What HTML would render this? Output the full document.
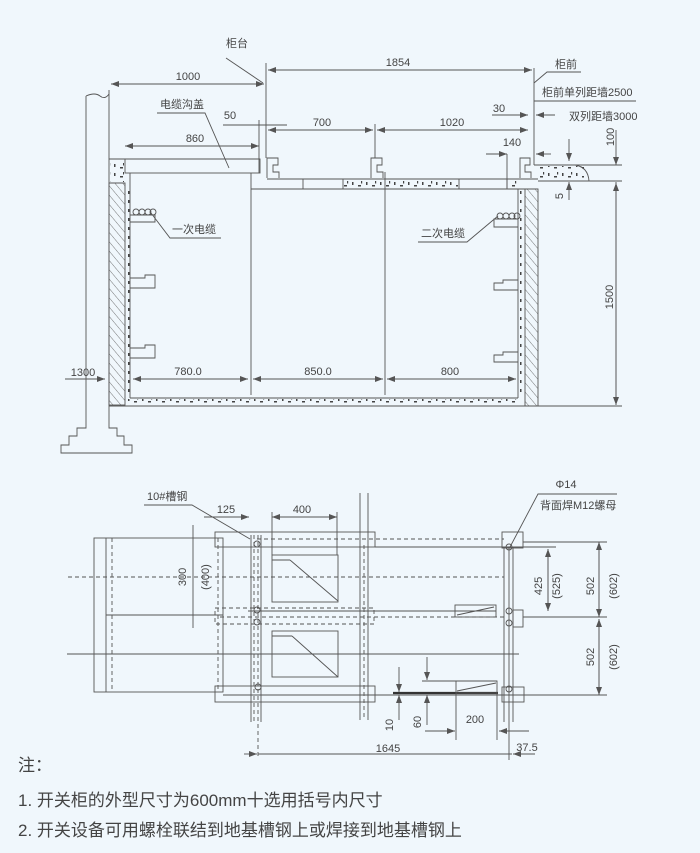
<!DOCTYPE html>
<html><head><meta charset="utf-8"><style>
html,body{margin:0;padding:0;background:#f0f7fc;}
svg{display:block}
text{font-family:"Liberation Sans","Noto Sans CJK SC",sans-serif;fill:#444;font-size:11px}
.l{stroke:#555;stroke-width:0.9;fill:none}
.d{stroke:#555;stroke-width:0.9;fill:none;stroke-dasharray:4 3}
.n{font-family:"Liberation Sans","Noto Sans CJK SC",sans-serif;font-size:17px;fill:#444}
</style></head><body>
<svg width="700" height="853" viewBox="0 0 700 853" xmlns="http://www.w3.org/2000/svg">
<defs>
<marker id="a" markerWidth="8" markerHeight="6" refX="8" refY="3" orient="auto" markerUnits="userSpaceOnUse"><path d="M0,0 L8,3 L0,6 z" fill="#555"/></marker>
<pattern id="h" width="6" height="6" patternUnits="userSpaceOnUse" patternTransform="rotate(-40)"><line x1="0" y1="0" x2="0" y2="6" stroke="#555" stroke-width="0.8"/></pattern>
<pattern id="c" width="14" height="9" patternUnits="userSpaceOnUse"><rect x="2" y="2" width="1.5" height="3" fill="#444"/><rect x="8" y="5" width="3" height="1.5" fill="#444"/><rect x="11" y="1" width="1.2" height="2.5" fill="#444"/></pattern>
</defs>

<!-- ===== TOP SECTION ===== -->
<!-- pillar -->
<path class="l" d="M86,96 L86,428 L77,428 L77,436 L69,436 L69,445 L61,445 L61,453 L132,453 L132,445 L124,445 L124,436 L117,436 L117,428 L109,428 L109,90"/>
<path class="l" d="M86,96 Q95,92 100,96 T109,94"/>
<!-- ground / cover -->
<line class="l" x1="109" y1="159" x2="260" y2="159"/>
<rect class="l" x="125" y="159" width="135" height="14"/>
<rect x="110" y="160" width="14" height="22" fill="url(#c)"/>
<line class="l" x1="109" y1="183" x2="125" y2="183"/>
<!-- left hatched wall -->
<rect x="109" y="183" width="16" height="222" fill="url(#h)" stroke="#555" stroke-width="0.9"/>
<line class="l" x1="130" y1="173" x2="130" y2="398"/>
<rect x="125" y="185" width="5" height="212" fill="url(#c)"/>
<!-- floor -->
<line class="l" x1="130" y1="398" x2="518" y2="398"/>
<line class="l" x1="109" y1="406" x2="622" y2="406"/>
<rect x="125" y="399" width="393" height="6" fill="url(#c)"/>
<!-- right wall -->
<rect x="525" y="189" width="13" height="217" fill="url(#h)" stroke="#555" stroke-width="0.9"/>
<line class="l" x1="518" y1="189" x2="518" y2="398"/>
<rect x="518" y="190" width="7" height="208" fill="url(#c)"/>
<!-- trench inner -->
<line class="l" x1="251" y1="189" x2="538" y2="189"/>
<line class="l" x1="251" y1="173" x2="251" y2="395"/>
<line class="l" x1="385" y1="172" x2="385" y2="395"/>
<!-- floor strip -->
<line class="l" x1="267" y1="179" x2="538" y2="179"/>
<line class="l" x1="303" y1="179" x2="303" y2="189"/>
<line class="l" x1="343" y1="179" x2="343" y2="189"/>
<line class="l" x1="459" y1="179" x2="459" y2="189"/>
<line class="l" x1="507" y1="179" x2="507" y2="189"/>
<rect x="344" y="180" width="114" height="8" fill="url(#c)"/>
<rect x="508" y="180" width="10" height="8" fill="url(#c)"/>
<!-- brackets -->
<path class="l" d="M267,178 L267,158 L278,158 L278,165 L273,165 L273,172 L279,172 L279,178"/>
<path class="l" d="M371,178 L371,158 L382,158 L382,165 L377,165 L377,172 L383,172 L383,178"/>
<path class="l" d="M520,178 L520,158 L530,158 L530,165 L525,165 L525,172 L531,172 L531,178"/>
<!-- right ground -->
<line class="l" x1="534" y1="165" x2="622" y2="165"/>
<line class="l" x1="538" y1="181" x2="622" y2="181"/>
<path class="l" d="M534,165 L575,165 Q588,167 589,181"/>
<rect x="536" y="166" width="48" height="14" fill="url(#c)"/>
<!-- cable trays left -->
<g class="l">
<circle cx="136" cy="212" r="3"/><circle cx="142" cy="212" r="3"/><circle cx="148" cy="212" r="3"/><circle cx="153" cy="212" r="3"/>
<path d="M130,215 L155,215 L155,222 L130,222"/>
<path d="M130,278 L145,278 L145,275 L155,275 L155,288 L130,288"/>
<path d="M130,348 L145,348 L145,345 L155,345 L155,358 L130,358"/>
<circle cx="500" cy="216" r="3"/><circle cx="506" cy="216" r="3"/><circle cx="512" cy="216" r="3"/><circle cx="517" cy="216" r="3"/>
<path d="M518,219 L494,219 L494,227 L518,227"/>
<path d="M518,280 L503,280 L503,283 L494,283 L494,290 L518,290"/>
<path d="M518,352 L503,352 L503,355 L494,355 L494,362 L518,362"/>
</g>
<!-- labels top -->
<path class="l" d="M221,238 L170,238 L151,213"/>
<text x="172" y="233">一次电缆</text>
<path class="l" d="M418,242 L467,242 L498,216"/>
<text x="421" y="237">二次电缆</text>
<path class="l" d="M157,113 L205,113 L229,168"/>
<text x="160" y="108">电缆沟盖</text>
<!-- dims top -->
<line class="l" x1="266" y1="63" x2="266" y2="158"/>
<line class="l" x1="259" y1="120" x2="259" y2="173"/>
<line class="l" x1="534" y1="68" x2="534" y2="165"/>
<line class="l" x1="375" y1="124" x2="375" y2="158"/>
<line class="l" x1="111" y1="84" x2="264" y2="84" marker-end="url(#a)"/>
<line class="l" x1="262" y1="84" x2="111" y2="84" marker-end="url(#a)"/>
<text x="188" y="80" text-anchor="middle">1000</text>
<path class="l" d="M226,58 L263,83"/>
<text x="237" y="47" text-anchor="middle">柜台</text>
<line class="l" x1="268" y1="70" x2="532" y2="70" marker-end="url(#a)"/>
<line class="l" x1="530" y1="70" x2="268" y2="70" marker-end="url(#a)"/>
<text x="398" y="66" text-anchor="middle">1854</text>
<path class="l" d="M534,83 L547,72 L581,72"/>
<text x="566" y="68" text-anchor="middle">柜前</text>
<line class="l" x1="534" y1="101" x2="636" y2="101"/>
<text x="542" y="96">柜前单列距墙2500</text>
<line class="l" x1="492" y1="115" x2="528" y2="115" marker-end="url(#a)"/>
<line class="l" x1="555" y1="115" x2="536" y2="115" marker-end="url(#a)"/>
<text x="499" y="112" text-anchor="middle">30</text>
<text x="569" y="120">双列距墙3000</text>
<line class="l" x1="223" y1="125" x2="287" y2="125"/>
<text x="230" y="119" text-anchor="middle">50</text>
<line class="l" x1="268" y1="130" x2="373" y2="130" marker-end="url(#a)"/>
<line class="l" x1="371" y1="130" x2="268" y2="130" marker-end="url(#a)"/>
<text x="322" y="126" text-anchor="middle">700</text>
<line class="l" x1="377" y1="130" x2="528" y2="130" marker-end="url(#a)"/>
<line class="l" x1="526" y1="130" x2="377" y2="130" marker-end="url(#a)"/>
<text x="452" y="126" text-anchor="middle">1020</text>
<line class="l" x1="125" y1="146" x2="259" y2="146" marker-end="url(#a)"/>
<line class="l" x1="257" y1="146" x2="125" y2="146" marker-end="url(#a)"/>
<text x="195" y="142" text-anchor="middle">860</text>
<line class="l" x1="486" y1="154" x2="507" y2="154" marker-end="url(#a)"/>
<line class="l" x1="551" y1="154" x2="536" y2="154" marker-end="url(#a)"/>
<line class="l" x1="507" y1="154" x2="507" y2="188"/>
<text x="512" y="146" text-anchor="middle">140</text>
<line class="l" x1="616" y1="130" x2="616" y2="165" marker-end="url(#a)"/>
<text transform="translate(614,137) rotate(-90)" text-anchor="middle">100</text>
<line class="l" x1="569" y1="139" x2="569" y2="161" marker-end="url(#a)"/>
<line class="l" x1="569" y1="200" x2="569" y2="182" marker-end="url(#a)"/>
<text transform="translate(563,196) rotate(-90)" text-anchor="middle">5</text>
<line class="l" x1="616" y1="182" x2="616" y2="405" marker-end="url(#a)"/>
<line class="l" x1="616" y1="405" x2="616" y2="183" marker-end="url(#a)"/>
<text transform="translate(613,297) rotate(-90)" text-anchor="middle">1500</text>
<line class="l" x1="65" y1="379" x2="105" y2="379" marker-end="url(#a)"/>
<text x="83" y="376" text-anchor="middle">1300</text>
<line class="l" x1="133" y1="379" x2="248" y2="379" marker-end="url(#a)"/>
<line class="l" x1="246" y1="379" x2="133" y2="379" marker-end="url(#a)"/>
<text x="188" y="375" text-anchor="middle">780.0</text>
<line class="l" x1="253" y1="379" x2="383" y2="379" marker-end="url(#a)"/>
<line class="l" x1="381" y1="379" x2="253" y2="379" marker-end="url(#a)"/>
<text x="318" y="375" text-anchor="middle">850.0</text>
<line class="l" x1="387" y1="379" x2="516" y2="379" marker-end="url(#a)"/>
<line class="l" x1="514" y1="379" x2="387" y2="379" marker-end="url(#a)"/>
<text x="450" y="375" text-anchor="middle">800</text>

<!-- ===== BOTTOM SECTION ===== -->
<rect class="l" x="94" y="538" width="129" height="154"/>
<line class="l" x1="106" y1="538" x2="106" y2="692"/>
<line class="d" x1="112" y1="538" x2="112" y2="692"/>
<line class="d" x1="218" y1="538" x2="218" y2="692"/>
<line class="l" x1="106" y1="615" x2="223" y2="615"/>
<line class="d" x1="68" y1="577" x2="504" y2="577"/>
<line class="l" x1="67" y1="654" x2="519" y2="654"/>
<!-- channels -->
<rect class="l" x="215" y="532" width="160" height="15"/>
<rect class="l" x="502" y="532" width="21" height="16"/>
<rect class="l" x="215" y="686" width="160" height="16"/>
<rect class="l" x="502" y="687" width="22" height="15"/>
<line class="d" x1="257" y1="539" x2="504" y2="539"/>
<line class="l" x1="375" y1="547" x2="556" y2="547"/>
<line class="l" x1="523" y1="542" x2="607" y2="542"/>
<line class="l" x1="223" y1="695" x2="607" y2="695"/>
<rect class="d" x="215" y="608" width="159" height="16"/>
<line class="l" x1="248" y1="611" x2="496" y2="611"/>
<line class="d" x1="220" y1="617" x2="504" y2="617"/>
<rect class="l" x="455" y="605" width="41" height="12"/>
<line class="l" x1="457" y1="615" x2="494" y2="607"/>
<rect class="l" x="513" y="610" width="10" height="17"/>
<line class="l" x1="523" y1="617" x2="607" y2="617"/>
<!-- verticals -->
<line class="l" x1="251" y1="535" x2="251" y2="722"/>
<line class="l" x1="261" y1="535" x2="261" y2="722"/>
<line class="d" x1="254" y1="535" x2="254" y2="722"/>
<line class="d" x1="258" y1="535" x2="258" y2="757"/>
<line class="l" x1="360" y1="493" x2="360" y2="720"/>
<line class="l" x1="368" y1="493" x2="368" y2="720"/>
<line class="d" x1="364" y1="545" x2="364" y2="720"/>
<line class="l" x1="504" y1="547" x2="504" y2="722"/>
<line class="l" x1="513" y1="547" x2="513" y2="722"/>
<line class="l" x1="509" y1="547" x2="509" y2="760"/>
<g class="l">
<circle cx="257" cy="544" r="3"/><circle cx="257" cy="610" r="3"/><circle cx="257" cy="622" r="3"/><circle cx="258" cy="687" r="3"/>
<circle cx="509" cy="547" r="3"/><circle cx="509" cy="611" r="3"/><circle cx="509" cy="623" r="3"/><circle cx="509" cy="689" r="3"/>
</g>
<!-- boxes -->
<rect class="l" x="272" y="555" width="66" height="47"/>
<line class="l" x1="272" y1="560" x2="290" y2="560"/>
<line class="l" x1="290" y1="560" x2="338" y2="601"/>
<rect class="l" x="272" y="631" width="66" height="46"/>
<line class="l" x1="272" y1="636" x2="292" y2="636"/>
<line class="l" x1="292" y1="636" x2="338" y2="677"/>
<!-- labels -->
<path class="l" d="M144,505 L192,505 L250,539"/>
<text x="147" y="500">10#槽钢</text>
<line class="l" x1="204" y1="517" x2="249" y2="517" marker-end="url(#a)"/>
<text x="226" y="513" text-anchor="middle">125</text>
<line class="l" x1="272" y1="512" x2="272" y2="555"/>
<line class="l" x1="337" y1="512" x2="337" y2="555"/>
<line class="l" x1="272" y1="517" x2="337" y2="517" marker-end="url(#a)"/>
<line class="l" x1="335" y1="517" x2="272" y2="517" marker-end="url(#a)"/>
<text x="302" y="513" text-anchor="middle">400</text>
<line class="l" x1="193" y1="525" x2="193" y2="628"/>
<text transform="translate(186,577) rotate(-90)" text-anchor="middle">300</text>
<text transform="translate(209,577) rotate(-90)" text-anchor="middle">(400)</text>
<text x="566" y="488" text-anchor="middle">Φ14</text>
<path class="l" d="M510,547 L538,494 L617,494"/>
<text x="540" y="509">背面焊M12螺母</text>
<line class="l" x1="548" y1="549" x2="548" y2="611" marker-end="url(#a)"/>
<line class="l" x1="548" y1="611" x2="548" y2="549" marker-end="url(#a)"/>
<text transform="translate(542,586) rotate(-90)" text-anchor="middle">425</text>
<text transform="translate(560,586) rotate(-90)" text-anchor="middle">(525)</text>
<line class="l" x1="599" y1="542" x2="599" y2="617" marker-end="url(#a)"/>
<line class="l" x1="599" y1="617" x2="599" y2="542" marker-end="url(#a)"/>
<text transform="translate(594,586) rotate(-90)" text-anchor="middle">502</text>
<text transform="translate(617,586) rotate(-90)" text-anchor="middle">(602)</text>
<line class="l" x1="599" y1="619" x2="599" y2="695" marker-end="url(#a)"/>
<line class="l" x1="599" y1="695" x2="599" y2="619" marker-end="url(#a)"/>
<text transform="translate(594,657) rotate(-90)" text-anchor="middle">502</text>
<text transform="translate(617,657) rotate(-90)" text-anchor="middle">(602)</text>
<!-- bottom small dims -->
<line x1="393" y1="693" x2="498" y2="693" stroke="#333" stroke-width="2.2"/>
<line class="l" x1="422" y1="681" x2="497" y2="681"/>
<rect class="l" x="456" y="681" width="41" height="12"/>
<line class="l" x1="457" y1="691" x2="496" y2="683"/>
<line class="l" x1="399" y1="667" x2="399" y2="692" marker-end="url(#a)"/>
<line class="l" x1="399" y1="720" x2="399" y2="695" marker-end="url(#a)"/>
<text transform="translate(393,725) rotate(-90)" text-anchor="middle">10</text>
<line class="l" x1="427" y1="657" x2="427" y2="680" marker-end="url(#a)"/>
<line class="l" x1="427" y1="725" x2="427" y2="695" marker-end="url(#a)"/>
<text transform="translate(421,722) rotate(-90)" text-anchor="middle">60</text>
<line class="l" x1="456" y1="693" x2="456" y2="740"/>
<line class="l" x1="497" y1="693" x2="497" y2="740"/>
<line class="l" x1="425" y1="731" x2="455" y2="731" marker-end="url(#a)"/>
<line class="l" x1="529" y1="731" x2="499" y2="731" marker-end="url(#a)"/>
<text x="475" y="723" text-anchor="middle">200</text>
<line class="l" x1="244" y1="754" x2="257" y2="754" marker-end="url(#a)"/>
<line class="l" x1="258" y1="754" x2="512" y2="754"/>
<line class="l" x1="535" y1="754" x2="513" y2="754" marker-end="url(#a)"/>
<text x="388" y="752" text-anchor="middle">1645</text>
<text x="527" y="751" text-anchor="middle">37.5</text>

<!-- notes -->
<text class="n" x="18" y="771">注：</text>
<text class="n" x="18" y="806">1. 开关柜的外型尺寸为600mm十选用括号内尺寸</text>
<text class="n" x="18" y="836">2. 开关设备可用螺栓联结到地基槽钢上或焊接到地基槽钢上</text>
</svg>
</body></html>
